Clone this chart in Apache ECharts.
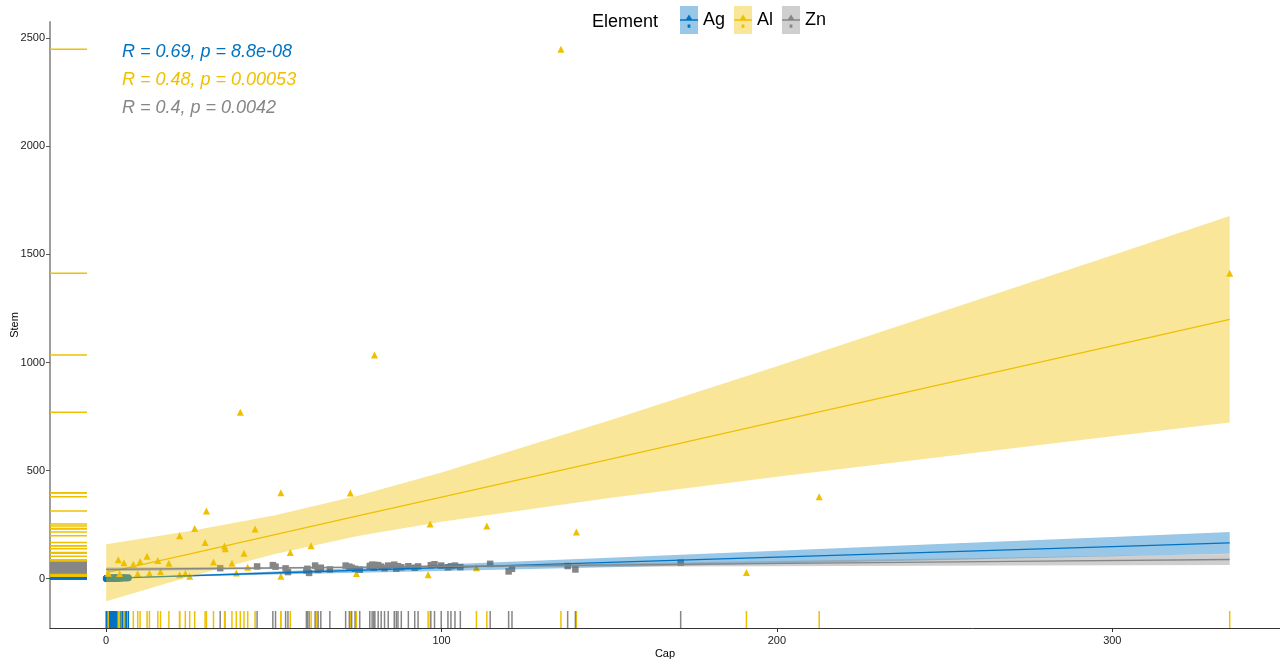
<!DOCTYPE html>
<html>
<head>
<meta charset="utf-8">
<script src="https://cdn.jsdelivr.net/npm/echarts@6/dist/echarts.min.js"></script>
<style>
html,body{margin:0;padding:0;background:#fff;}
#chart{width:1280px;height:662px;}
</style>
</head>
<body>
<div id="chart"></div>
<script>
// ---------- data ----------
const groups = ['Ag', 'Al', 'Zn'];
const colors = ['#0073C2', '#EFC000', '#868686'];
const bandColors = ['rgba(0,115,194,0.4)', 'rgba(239,192,0,0.4)', 'rgba(134,134,134,0.4)'];
const corLabels = ['R = 0.69, p = 8.8e-08', 'R = 0.48, p = 0.00053', 'R = 0.4, p = 0.0042'];
const xTicks = [0, 100, 200, 300];
const yTicks = [0, 500, 1000, 1500, 2000, 2500];

const agX = [0.04,0.12,0.18,0.27,0.33,0.41,0.52,0.58,0.66,0.79,0.85,0.97,1.06,1.14,1.25,1.31,1.43,1.52,1.68,1.74,1.83,1.95,2.07,2.16,2.24,2.38,2.46,2.57,2.69,2.73,2.86,2.94,3.08,3.17,3.26,3.35,3.48,3.57,3.63,4.12,4.37,4.85,5.21,5.64,6.08,6.62];
const agY = [0.3,0.8,0.1,0.5,1.2,0.2,0.9,0.4,1.6,0.3,0.7,1.4,0.5,1.9,0.8,0.2,1.1,2.3,0.6,1.5,0.9,2.1,1.3,0.4,1.7,2.6,1.0,1.6,0.7,2.2,1.4,3.0,1.8,0.9,2.4,1.5,2.9,1.2,2.0,2.7,1.6,3.1,2.2,3.4,2.6,3.6];

const alX = [135.6,335,80,40,52.1,72.8,212.6,29.9,26.4,44.4,21.9,96.6,113.5,140.2,29.5,35.3,35.5,61.1,41.1,54.9,3.6,5.3,8.1,10.1,12.2,15.4,18.7,32,37.5,190.9,52.1,74.6,96,0.6,4,9.4,12.9,16.2,21.9,23.6,24.9,38.8,42.2,62.8,110.4];
const alY = [2450,1413,1035,770,397,396,379,313,232,229,198,252,243,215,167,150,138,152,117,120,87,73,66,79,103,83,71,77,71,28,11,23,18,25,22,22,25,31,18,23,11,26,52,53,50];

const znX = [34,45,49.7,50.5,53.5,54.2,59.7,60.5,62.3,63.2,66.7,71.4,73.2,74.2,75.6,78.6,79.3,80.1,81.1,82,84.1,85.9,87,88,90.1,93,97.9,99.9,101.9,104,105.6,114.5,120,121,137.6,139.9,171.3,72.5,83,92,96.8,102.8,64,79.8,86.5,60];
const znY = [48,56,62,55,47,30,38,26,60,40,42,60,50,45,41,58,64,63,62,55,60,64,57,52,57,56,66,60,52,60,53,68,33,45,58,42,74,55,48,50,62,57,50,50,46,45];

// regression lines and confidence bands
const agFitX = [0,5,50,100,150,200,250,300,335];
const agFit  = [1,3.4,25.5,50,74.4,98.9,123.4,147.9,165];
const agLo   = [0.4,2.8,18.4,35.4,52.3,69.3,86.3,103.4,115];
const agHi   = [1.6,4.0,32.6,64.6,96.5,128.5,160.5,192.4,215];

const alFitX = [0,25,50,75,100,150,200,250,300,335];
const alFit  = [27,114.5,202,289.6,377,552,727,902,1077,1200];
const alLo   = [-105,9.5,112,196.6,263,373,471,565,658,722];
const alHi   = [159,219.5,292,382.6,491,731,983,1239,1496,1678];

const znFitX = [0,40,80,120,170,220,270,335];
const znFit  = [42,47.5,53,58.5,65.3,72.2,79.1,88];
const znLo   = [33.5,42.3,49.5,53.3,56,58.3,60.5,63];
const znHi   = [50.5,52.7,56.5,63.7,74.6,86.1,97.7,113];

// ---------- build ----------
const FONT = '"Liberation Sans", Arial, Helvetica, sans-serif';
const pts = [[agX, agY], [alX, alY], [znX, znY]];
const fits = [[agFitX, agFit, agLo, agHi], [alFitX, alFit, alLo, alHi], [znFitX, znFit, znLo, znHi]];
const symbols = ['circle', 'triangle', 'rect'];
const symbolSizes = [7, 7, 6.5];

const series = [];
// points (drawn first, underneath the bands)
groups.forEach((g, i) => {
  series.push({
    type: 'scatter', name: g, symbol: symbols[i], symbolSize: symbolSizes[i], z: 1,
    itemStyle: { color: colors[i], opacity: 1 },
    data: pts[i][0].map((x, k) => [x, pts[i][1][k]]),
    silent: true, animation: false
  });
});
// bands + fit lines
groups.forEach((g, i) => {
  const [fx, fy, lo, hi] = fits[i];
  const rows = fx.map((x, k) => [x, lo[k], hi[k]]);
  series.push({
    type: 'custom', name: g, data: rows, encode: { x: 0, y: [1, 2] }, z: 2 + 2 * i,
    silent: true, animation: false,
    renderItem: (params, api) => {
      if (params.dataIndex !== 0) return null;
      const top = rows.map(r => api.coord([r[0], r[2]]));
      const bot = rows.map(r => api.coord([r[0], r[1]])).reverse();
      return { type: 'polygon', shape: { points: top.concat(bot) }, style: { fill: bandColors[i] } };
    }
  });
  series.push({
    type: 'line', name: g, data: fx.map((x, k) => [x, fy[k]]), z: 3 + 2 * i,
    showSymbol: false, symbol: 'none', silent: true, animation: false,
    lineStyle: { color: colors[i], width: 1.3 }, itemStyle: { color: colors[i] }
  });
});
// rugs
groups.forEach((g, i) => {
  series.push({
    type: 'custom', name: g, data: pts[i][0].map(x => [x, 0]), encode: { x: 0, y: 1 }, z: 10,
    silent: true, animation: false,
    renderItem: (params, api) => {
      const cs = params.coordSys;
      const px = api.coord([api.value(0), 0])[0];
      const yb = cs.y + cs.height;
      return { type: 'line', shape: { x1: px, y1: yb, x2: px, y2: yb - 17 }, style: { stroke: colors[i], lineWidth: 1.5 } };
    }
  });
  series.push({
    type: 'custom', name: g, data: pts[i][1].map(y => [0, y]), encode: { x: 0, y: 1 }, z: 10,
    silent: true, animation: false,
    renderItem: (params, api) => {
      const cs = params.coordSys;
      const py = api.coord([0, api.value(1)])[1];
      return { type: 'line', shape: { x1: cs.x, y1: py, x2: cs.x + 37, y2: py }, style: { stroke: colors[i], lineWidth: 1.5 } };
    }
  });
});

const keyIcon = 'path://M0,0M18,28M0,13.2h18v1.6h-18z M5.5,14 L9,8.5 L12.5,14z M7.6,18.5h2.8v3.2h-2.8z';
const legendBase = {
  orient: 'horizontal', left: 680, top: 6, itemWidth: 18, itemHeight: 28, itemGap: 9,
  selectedMode: false, padding: 0
};

const option = {
  animation: false,
  backgroundColor: '#fff',
  grid: { left: 50, right: 0, top: 22, bottom: 34, containLabel: false, outerBoundsMode: 'none' },
  xAxis: {
    type: 'value', min: -16.75, max: 350,
    name: 'Cap', nameLocation: 'middle', nameGap: 20, nameMoveOverlap: false,
    nameTextStyle: { fontSize: 11, color: '#000', fontFamily: FONT },
    axisLine: { show: true, onZero: false, lineStyle: { color: '#333', width: 1 } },
    axisTick: { show: true, length: 4, customValues: xTicks, lineStyle: { color: '#333' } },
    axisLabel: { customValues: xTicks, fontSize: 11, color: '#222', margin: 7, fontFamily: FONT,
                 formatter: v => String(v) },
    splitLine: { show: false }
  },
  yAxis: {
    type: 'value', min: -229, max: 2576,
    name: 'Stem', nameLocation: 'middle', nameGap: 30, nameMoveOverlap: false,
    nameTextStyle: { fontSize: 11, color: '#000', fontFamily: FONT },
    axisLine: { show: true, onZero: false, lineStyle: { color: '#9e9e9e', width: 2 } },
    axisTick: { show: true, length: 4, customValues: yTicks, lineStyle: { color: '#555' } },
    axisLabel: { customValues: yTicks, fontSize: 11, color: '#222', margin: 5, fontFamily: FONT,
                 formatter: v => String(v) },
    splitLine: { show: false }
  },
  legend: [
    Object.assign({}, legendBase, {
      data: groups.map((g, i) => ({ name: g, icon: 'rect', itemStyle: { color: bandColors[i], borderWidth: 0 } })),
      textStyle: { fontSize: 18, color: '#000', fontFamily: FONT }
    }),
    Object.assign({}, legendBase, {
      data: groups.map((g, i) => ({ name: g, icon: keyIcon, itemStyle: { color: colors[i], borderWidth: 0 } })),
      textStyle: { fontSize: 18, color: 'rgba(0,0,0,0)', fontFamily: FONT }
    })
  ],
  graphic: [
    { type: 'text', x: 592, y: 22, silent: true,
      style: { text: 'Element', fill: '#000', font: '18px ' + FONT, verticalAlign: 'middle' } }
  ].concat(corLabels.map((t, i) => ({
    type: 'text', x: 122, y: 52 + 28 * i, silent: true,
    style: { text: t, fill: colors[i], font: 'italic 18px ' + FONT, verticalAlign: 'middle' }
  }))),
  series: series
};

const chart = echarts.init(document.getElementById('chart'), null, { renderer: 'canvas' });
chart.setOption(option);
</script>
</body>
</html>
